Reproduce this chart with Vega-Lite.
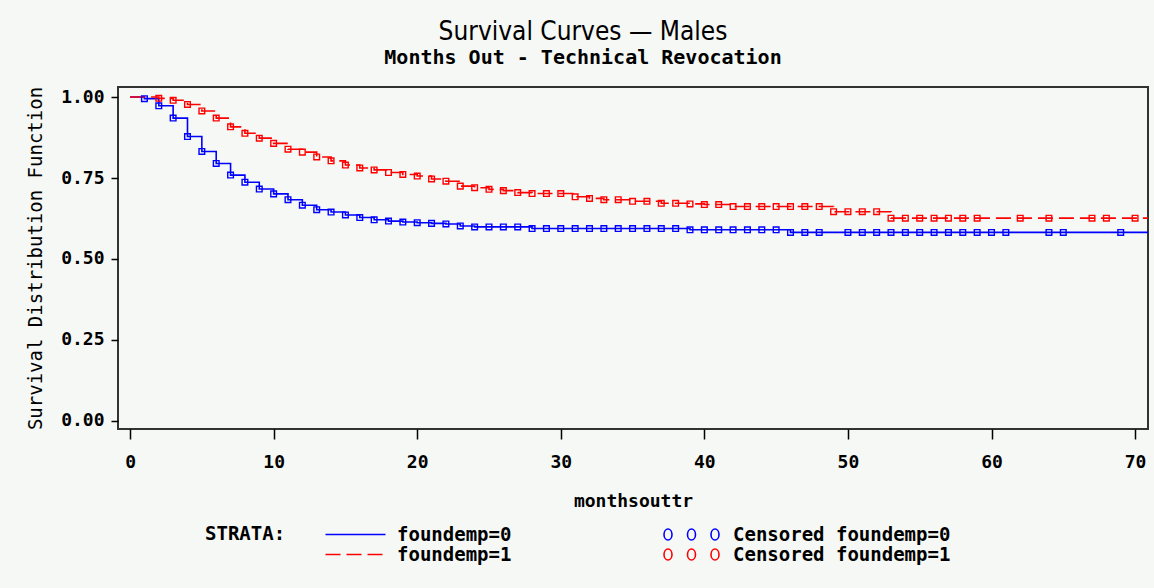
{
  "$schema": "https://vega.github.io/schema/vega-lite/v6.json",
  "width": 1030,
  "height": 342,
  "autosize": {"type": "none"},
  "padding": {"left": 118, "top": 87, "right": 6, "bottom": 159},
  "background": "#f5f8f5",
  "title": {
    "text": "Survival Curves — Males",
    "subtitle": "Months Out - Technical Revocation",
    "anchor": "middle",
    "dx": -50,
    "offset": 18,
    "font": "Liberation Sans Narrow, DejaVu Sans Condensed, Roboto Condensed, sans-serif",
    "fontSize": 26,
    "fontWeight": "normal",
    "color": "#000000",
    "subtitleFont": "DejaVu Sans Mono",
    "subtitleFontSize": 20,
    "subtitleFontWeight": "bold",
    "subtitleColor": "#000000",
    "subtitlePadding": 3
  },
  "config": {
    "view": {"stroke": "#333333", "strokeWidth": 2},
    "axis": {
      "grid": false,
      "domain": false,
      "tickColor": "#000000",
      "tickWidth": 1.5,
      "labelFont": "DejaVu Sans Mono",
      "labelFontSize": 18,
      "labelFontWeight": "bold",
      "labelColor": "#000000",
      "titleFont": "DejaVu Sans Mono",
      "titleColor": "#000000"
    },
    "legend": {
      "labelFont": "DejaVu Sans Mono",
      "labelFontSize": 19,
      "labelFontWeight": "bold",
      "labelColor": "#000000",
      "labelLimit": 400,
      "titleFont": "DejaVu Sans Mono",
      "titleFontSize": 19,
      "titleFontWeight": "bold",
      "titleColor": "#000000",
      "padding": 0
    }
  },
  "data": {
    "values": [
      {"t":0,"s":1.000,"g":"foundemp=0","c":0},
      {"t":1,"s":0.995,"g":"foundemp=0","c":1},
      {"t":2,"s":0.973,"g":"foundemp=0","c":1},
      {"t":3,"s":0.935,"g":"foundemp=0","c":1},
      {"t":4,"s":0.878,"g":"foundemp=0","c":1},
      {"t":5,"s":0.832,"g":"foundemp=0","c":1},
      {"t":6,"s":0.795,"g":"foundemp=0","c":1},
      {"t":7,"s":0.759,"g":"foundemp=0","c":1},
      {"t":8,"s":0.737,"g":"foundemp=0","c":1},
      {"t":9,"s":0.716,"g":"foundemp=0","c":1},
      {"t":10,"s":0.701,"g":"foundemp=0","c":1},
      {"t":11,"s":0.683,"g":"foundemp=0","c":1},
      {"t":12,"s":0.666,"g":"foundemp=0","c":1},
      {"t":13,"s":0.652,"g":"foundemp=0","c":1},
      {"t":14,"s":0.645,"g":"foundemp=0","c":1},
      {"t":15,"s":0.636,"g":"foundemp=0","c":1},
      {"t":16,"s":0.628,"g":"foundemp=0","c":1},
      {"t":17,"s":0.621,"g":"foundemp=0","c":1},
      {"t":18,"s":0.617,"g":"foundemp=0","c":1},
      {"t":19,"s":0.614,"g":"foundemp=0","c":1},
      {"t":20,"s":0.612,"g":"foundemp=0","c":1},
      {"t":21,"s":0.610,"g":"foundemp=0","c":1},
      {"t":22,"s":0.608,"g":"foundemp=0","c":1},
      {"t":23,"s":0.602,"g":"foundemp=0","c":1},
      {"t":24,"s":0.599,"g":"foundemp=0","c":1},
      {"t":25,"s":0.599,"g":"foundemp=0","c":1},
      {"t":26,"s":0.599,"g":"foundemp=0","c":1},
      {"t":27,"s":0.599,"g":"foundemp=0","c":1},
      {"t":28,"s":0.594,"g":"foundemp=0","c":1},
      {"t":29,"s":0.594,"g":"foundemp=0","c":1},
      {"t":30,"s":0.594,"g":"foundemp=0","c":1},
      {"t":31,"s":0.594,"g":"foundemp=0","c":1},
      {"t":32,"s":0.594,"g":"foundemp=0","c":1},
      {"t":33,"s":0.594,"g":"foundemp=0","c":1},
      {"t":34,"s":0.594,"g":"foundemp=0","c":1},
      {"t":35,"s":0.594,"g":"foundemp=0","c":1},
      {"t":36,"s":0.594,"g":"foundemp=0","c":1},
      {"t":37,"s":0.594,"g":"foundemp=0","c":1},
      {"t":38,"s":0.594,"g":"foundemp=0","c":1},
      {"t":39,"s":0.590,"g":"foundemp=0","c":1},
      {"t":40,"s":0.590,"g":"foundemp=0","c":1},
      {"t":41,"s":0.590,"g":"foundemp=0","c":1},
      {"t":42,"s":0.590,"g":"foundemp=0","c":1},
      {"t":43,"s":0.590,"g":"foundemp=0","c":1},
      {"t":44,"s":0.590,"g":"foundemp=0","c":1},
      {"t":45,"s":0.590,"g":"foundemp=0","c":1},
      {"t":46,"s":0.582,"g":"foundemp=0","c":1},
      {"t":47,"s":0.582,"g":"foundemp=0","c":1},
      {"t":48,"s":0.582,"g":"foundemp=0","c":1},
      {"t":49,"s":0.582,"g":"foundemp=0","c":0},
      {"t":50,"s":0.582,"g":"foundemp=0","c":1},
      {"t":51,"s":0.582,"g":"foundemp=0","c":1},
      {"t":52,"s":0.582,"g":"foundemp=0","c":1},
      {"t":53,"s":0.582,"g":"foundemp=0","c":1},
      {"t":54,"s":0.582,"g":"foundemp=0","c":1},
      {"t":55,"s":0.582,"g":"foundemp=0","c":1},
      {"t":56,"s":0.582,"g":"foundemp=0","c":1},
      {"t":57,"s":0.582,"g":"foundemp=0","c":1},
      {"t":58,"s":0.582,"g":"foundemp=0","c":1},
      {"t":59,"s":0.582,"g":"foundemp=0","c":1},
      {"t":60,"s":0.582,"g":"foundemp=0","c":1},
      {"t":61,"s":0.582,"g":"foundemp=0","c":1},
      {"t":62,"s":0.582,"g":"foundemp=0","c":0},
      {"t":63,"s":0.582,"g":"foundemp=0","c":0},
      {"t":64,"s":0.582,"g":"foundemp=0","c":1},
      {"t":65,"s":0.582,"g":"foundemp=0","c":1},
      {"t":66,"s":0.582,"g":"foundemp=0","c":0},
      {"t":67,"s":0.582,"g":"foundemp=0","c":0},
      {"t":68,"s":0.582,"g":"foundemp=0","c":0},
      {"t":69,"s":0.582,"g":"foundemp=0","c":1},
      {"t":70,"s":0.582,"g":"foundemp=0","c":0},
      {"t":71,"s":0.582,"g":"foundemp=0","c":0},
      {"t":0,"s":1.000,"g":"foundemp=1","c":0},
      {"t":1,"s":1.000,"g":"foundemp=1","c":0},
      {"t":2,"s":0.996,"g":"foundemp=1","c":1},
      {"t":3,"s":0.990,"g":"foundemp=1","c":1},
      {"t":4,"s":0.977,"g":"foundemp=1","c":1},
      {"t":5,"s":0.957,"g":"foundemp=1","c":1},
      {"t":6,"s":0.935,"g":"foundemp=1","c":1},
      {"t":7,"s":0.908,"g":"foundemp=1","c":1},
      {"t":8,"s":0.888,"g":"foundemp=1","c":1},
      {"t":9,"s":0.873,"g":"foundemp=1","c":1},
      {"t":10,"s":0.857,"g":"foundemp=1","c":1},
      {"t":11,"s":0.839,"g":"foundemp=1","c":1},
      {"t":12,"s":0.830,"g":"foundemp=1","c":1},
      {"t":13,"s":0.815,"g":"foundemp=1","c":1},
      {"t":14,"s":0.803,"g":"foundemp=1","c":1},
      {"t":15,"s":0.790,"g":"foundemp=1","c":1},
      {"t":16,"s":0.781,"g":"foundemp=1","c":1},
      {"t":17,"s":0.775,"g":"foundemp=1","c":1},
      {"t":18,"s":0.767,"g":"foundemp=1","c":1},
      {"t":19,"s":0.761,"g":"foundemp=1","c":1},
      {"t":20,"s":0.756,"g":"foundemp=1","c":1},
      {"t":21,"s":0.747,"g":"foundemp=1","c":1},
      {"t":22,"s":0.740,"g":"foundemp=1","c":1},
      {"t":23,"s":0.725,"g":"foundemp=1","c":1},
      {"t":24,"s":0.720,"g":"foundemp=1","c":1},
      {"t":25,"s":0.715,"g":"foundemp=1","c":1},
      {"t":26,"s":0.711,"g":"foundemp=1","c":1},
      {"t":27,"s":0.705,"g":"foundemp=1","c":1},
      {"t":28,"s":0.702,"g":"foundemp=1","c":1},
      {"t":29,"s":0.702,"g":"foundemp=1","c":1},
      {"t":30,"s":0.702,"g":"foundemp=1","c":1},
      {"t":31,"s":0.692,"g":"foundemp=1","c":1},
      {"t":32,"s":0.687,"g":"foundemp=1","c":1},
      {"t":33,"s":0.683,"g":"foundemp=1","c":1},
      {"t":34,"s":0.683,"g":"foundemp=1","c":1},
      {"t":35,"s":0.678,"g":"foundemp=1","c":1},
      {"t":36,"s":0.678,"g":"foundemp=1","c":1},
      {"t":37,"s":0.672,"g":"foundemp=1","c":1},
      {"t":38,"s":0.672,"g":"foundemp=1","c":1},
      {"t":39,"s":0.670,"g":"foundemp=1","c":1},
      {"t":40,"s":0.668,"g":"foundemp=1","c":1},
      {"t":41,"s":0.668,"g":"foundemp=1","c":1},
      {"t":42,"s":0.662,"g":"foundemp=1","c":1},
      {"t":43,"s":0.662,"g":"foundemp=1","c":1},
      {"t":44,"s":0.662,"g":"foundemp=1","c":1},
      {"t":45,"s":0.662,"g":"foundemp=1","c":1},
      {"t":46,"s":0.662,"g":"foundemp=1","c":1},
      {"t":47,"s":0.662,"g":"foundemp=1","c":1},
      {"t":48,"s":0.662,"g":"foundemp=1","c":1},
      {"t":49,"s":0.646,"g":"foundemp=1","c":1},
      {"t":50,"s":0.646,"g":"foundemp=1","c":1},
      {"t":51,"s":0.646,"g":"foundemp=1","c":1},
      {"t":52,"s":0.646,"g":"foundemp=1","c":1},
      {"t":53,"s":0.626,"g":"foundemp=1","c":1},
      {"t":54,"s":0.626,"g":"foundemp=1","c":1},
      {"t":55,"s":0.626,"g":"foundemp=1","c":1},
      {"t":56,"s":0.626,"g":"foundemp=1","c":1},
      {"t":57,"s":0.626,"g":"foundemp=1","c":1},
      {"t":58,"s":0.626,"g":"foundemp=1","c":1},
      {"t":59,"s":0.626,"g":"foundemp=1","c":1},
      {"t":60,"s":0.626,"g":"foundemp=1","c":0},
      {"t":61,"s":0.626,"g":"foundemp=1","c":0},
      {"t":62,"s":0.626,"g":"foundemp=1","c":1},
      {"t":63,"s":0.626,"g":"foundemp=1","c":0},
      {"t":64,"s":0.626,"g":"foundemp=1","c":1},
      {"t":65,"s":0.626,"g":"foundemp=1","c":0},
      {"t":66,"s":0.626,"g":"foundemp=1","c":0},
      {"t":67,"s":0.626,"g":"foundemp=1","c":1},
      {"t":68,"s":0.626,"g":"foundemp=1","c":1},
      {"t":69,"s":0.626,"g":"foundemp=1","c":0},
      {"t":70,"s":0.626,"g":"foundemp=1","c":1},
      {"t":71,"s":0.626,"g":"foundemp=1","c":0}
    ]
  },
  "encoding": {
    "x": {
      "field": "t", "type": "quantitative",
      "scale": {"domain": [-0.84, 70.9], "nice": false, "zero": false},
      "axis": {
        "values": [0, 10, 20, 30, 40, 50, 60, 70], "format": "d",
        "title": "monthsouttr", "tickSize": 10, "labelPadding": 14,
        "titleFontSize": 18, "titleFontWeight": "bold", "titlePadding": 21
      }
    },
    "y": {
      "field": "s", "type": "quantitative",
      "scale": {"domain": [-0.025, 1.031], "nice": false, "zero": false},
      "axis": {
        "values": [0, 0.25, 0.5, 0.75, 1], "format": ".2f",
        "title": "Survival Distribution Function", "tickSize": 7, "labelPadding": 7,
        "titleFontSize": 19, "titleFontWeight": "normal", "titlePadding": 15
      }
    }
  },
  "layer": [
    {
      "mark": {"type": "line", "interpolate": "step-after", "strokeWidth": 1.6, "clip": true},
      "encoding": {
        "color": {
          "field": "g", "type": "nominal",
          "scale": {"domain": ["foundemp=0", "foundemp=1"], "range": ["#0000ff", "#ff0000"]},
          "legend": {
            "orient": "none", "legendX": 87, "legendY": 438,
            "title": "STRATA:", "titleOrient": "left", "titleAnchor": "start", "titlePadding": 60,
            "symbolType": "M-6,0H6", "symbolSize": 100, "symbolStrokeWidth": 1.6,
            "labelOffset": 32, "rowPadding": -1
          }
        },
        "strokeDash": {
          "field": "g", "type": "nominal",
          "scale": {"domain": ["foundemp=0", "foundemp=1"], "range": [[1, 0], [15, 6]]},
          "legend": {
            "orient": "none", "legendX": 87, "legendY": 438,
            "title": "STRATA:", "titleOrient": "left", "titleAnchor": "start", "titlePadding": 60,
            "symbolType": "M-6,0H6", "symbolSize": 100, "symbolStrokeWidth": 1.6,
            "labelOffset": 32, "rowPadding": -1
          }
        }
      }
    },
    {
      "transform": [
        {"filter": "datum.c == 1"},
        {"calculate": "'Censored ' + datum.g", "as": "cl"}
      ],
      "mark": {"type": "point", "shape": "square", "size": 32, "strokeWidth": 1.4, "filled": false, "opacity": 1},
      "encoding": {
        "stroke": {
          "field": "cl", "type": "nominal",
          "scale": {"domain": ["Censored foundemp=0", "Censored foundemp=1"], "range": ["#0000ff", "#ff0000"]},
          "legend": {
            "orient": "none", "legendX": 564, "legendY": 438,
            "title": null,
            "symbolType": "M-5.5,0a0.8,1.1 0 1,0 1.6,0a0.8,1.1 0 1,0 -1.6,0Z M-0.8,0a0.8,1.1 0 1,0 1.6,0a0.8,1.1 0 1,0 -1.6,0Z M3.9,0a0.8,1.1 0 1,0 1.6,0a0.8,1.1 0 1,0 -1.6,0Z",
            "symbolSize": 100, "symbolStrokeWidth": 1.6,
            "labelOffset": 32, "rowPadding": -1
          }
        }
      }
    }
  ]
}
